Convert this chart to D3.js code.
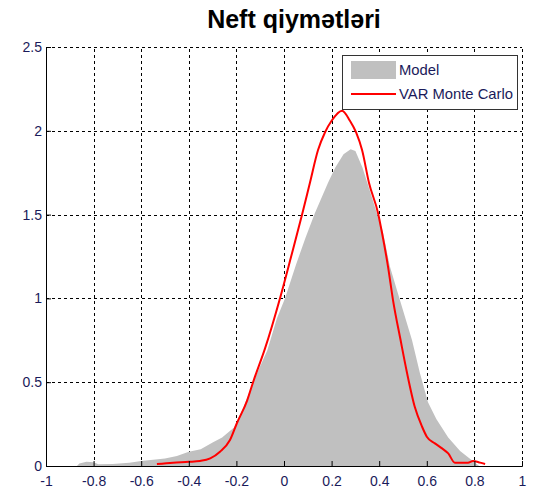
<!DOCTYPE html>
<html><head><meta charset="utf-8">
<script src="https://cdn.jsdelivr.net/npm/d3@7/dist/d3.min.js"></script>
<style>body{margin:0;background:#fff;}svg{display:block;}</style>
</head><body>
<script>
const title = "Neft qiymətləri";
const xTicks = [-1, -0.8, -0.6, -0.4, -0.2, 0, 0.2, 0.4, 0.6, 0.8, 1];
const yTicks = [0, 0.5, 1, 1.5, 2, 2.5];
const seriesNames = ["Model", "VAR Monte Carlo"];
// Model density (gray area)
const modelX = [-0.87,-0.86,-0.83,-0.80,-0.78,-0.72,-0.65,-0.60,-0.50,-0.45,-0.40,-0.35,-0.30,-0.26,-0.21,-0.17,-0.13,-0.07,-0.03,0.004,0.05,0.09,0.13,0.185,0.215,0.25,0.28,0.30,0.33,0.35,0.39,0.415,0.445,0.487,0.538,0.571,0.605,0.64,0.69,0.74,0.78,0.82];
const modelY = [0,0.015,0.025,0.022,0.01,0.012,0.02,0.03,0.045,0.06,0.085,0.10,0.14,0.17,0.23,0.35,0.50,0.69,0.88,1.0,1.2,1.36,1.51,1.69,1.78,1.86,1.89,1.88,1.78,1.69,1.51,1.40,1.19,0.99,0.75,0.555,0.38,0.28,0.17,0.09,0.045,0];
// VAR Monte Carlo density (red line)
const varX = [-0.534,-0.466,-0.40,-0.353,-0.31,-0.269,-0.227,-0.198,-0.155,-0.13,-0.08,-0.017,0.03,0.076,0.109,0.143,0.172,0.20,0.244,0.277,0.303,0.328,0.357,0.395,0.412,0.437,0.458,0.49,0.517,0.55,0.58,0.60,0.634,0.664,0.69,0.718,0.773,0.794,0.824,0.845];
const varY = [0.012,0.02,0.025,0.03,0.045,0.085,0.155,0.255,0.39,0.5,0.7,1.0,1.25,1.5,1.69,1.885,1.99,2.06,2.12,2.06,1.99,1.885,1.69,1.51,1.39,1.19,0.99,0.75,0.555,0.35,0.235,0.175,0.135,0.105,0.075,0.02,0.02,0.03,0.02,0.012];

const W = 542, H = 494;
const L = 46, R = 522, T = 47, B = 466;
const svg = d3.select("body").append("svg").attr("width", W).attr("height", H);
const x = d3.scaleLinear().domain([-1, 1]).range([L, R]);
const y = d3.scaleLinear().domain([0, 2.5]).range([B, T]);
const labelColor = "#1a1a5a";
const font = "'Liberation Sans', Arial, sans-serif";

// grid
const grid = svg.append("g").attr("stroke", "#000").attr("stroke-width", 1).attr("stroke-dasharray", "3,3").attr("shape-rendering", "crispEdges");
xTicks.filter(d => d > -1).forEach(d => {
  grid.append("line").attr("x1", Math.round(x(d)) + 0.5).attr("x2", Math.round(x(d)) + 0.5).attr("y1", B).attr("y2", T);
});
yTicks.filter(d => d > 0).forEach(d => {
  grid.append("line").attr("x1", L).attr("x2", R).attr("y1", Math.round(y(d)) + 0.5).attr("y2", Math.round(y(d)) + 0.5);
});

const model = modelX.map((v, i) => [v, modelY[i]]);
const mc = varX.map((v, i) => [v, varY[i]]);

svg.append("path").datum(model)
  .attr("fill", "#c0c0c0")
  .attr("d", d3.area().x(d => x(d[0])).y0(y(0)).y1(d => y(d[1])));

svg.append("path").datum(mc)
  .attr("fill", "none").attr("stroke", "#ff0000").attr("stroke-width", 2)
  .attr("stroke-linejoin", "round")
  .attr("d", d3.line().x(d => x(d[0])).y(d => y(d[1])).curve(d3.curveMonotoneX));

// axes
const xAxis = d3.axisBottom(x).tickValues(xTicks).tickSize(-5).tickPadding(10).tickFormat(d3.format("~g"));
const yAxis = d3.axisLeft(y).tickValues(yTicks).tickSize(-5).tickPadding(4).tickFormat(d3.format("~g"));
const gx = svg.append("g").attr("transform", `translate(0,${B})`).call(xAxis);
const gy = svg.append("g").attr("transform", `translate(${L},0)`).call(yAxis);
[gx, gy].forEach(g => {
  g.select(".domain").attr("stroke", "#000").attr("stroke-width", 1);
  g.selectAll(".tick line").attr("stroke", "#000");
  g.selectAll("text").attr("fill", labelColor).style("font-family", font).style("font-size", "14px");
});
gx.selectAll(".tick text").text(d => d3.format("~g")(d).replace("−", "-"));
gy.selectAll(".tick text").text(d => d3.format("~g")(d).replace("−", "-"));

// title
svg.append("text").attr("x", 294).attr("y", 28).attr("text-anchor", "middle")
  .style("font-family", font).style("font-weight", "bold").style("font-size", "25px")
  .attr("fill", "#000").text(title);

// legend
const lg = svg.append("g");
lg.append("rect").attr("x", 342.5).attr("y", 55.5).attr("width", 175).attr("height", 54)
  .attr("fill", "#fff").attr("stroke", "#333").attr("stroke-width", 1);
lg.append("rect").attr("x", 351).attr("y", 61).attr("width", 45).attr("height", 18).attr("fill", "#c0c0c0");
lg.append("line").attr("x1", 351).attr("x2", 396).attr("y1", 94).attr("y2", 94).attr("stroke", "#ff0000").attr("stroke-width", 2);
lg.append("text").attr("x", 399).attr("y", 75).text(seriesNames[0])
  .style("font-family", font).style("font-size", "14.8px").attr("fill", labelColor);
lg.append("text").attr("x", 399).attr("y", 99).text(seriesNames[1])
  .style("font-family", font).style("font-size", "14.8px").attr("fill", labelColor);
</script>
</body></html>
